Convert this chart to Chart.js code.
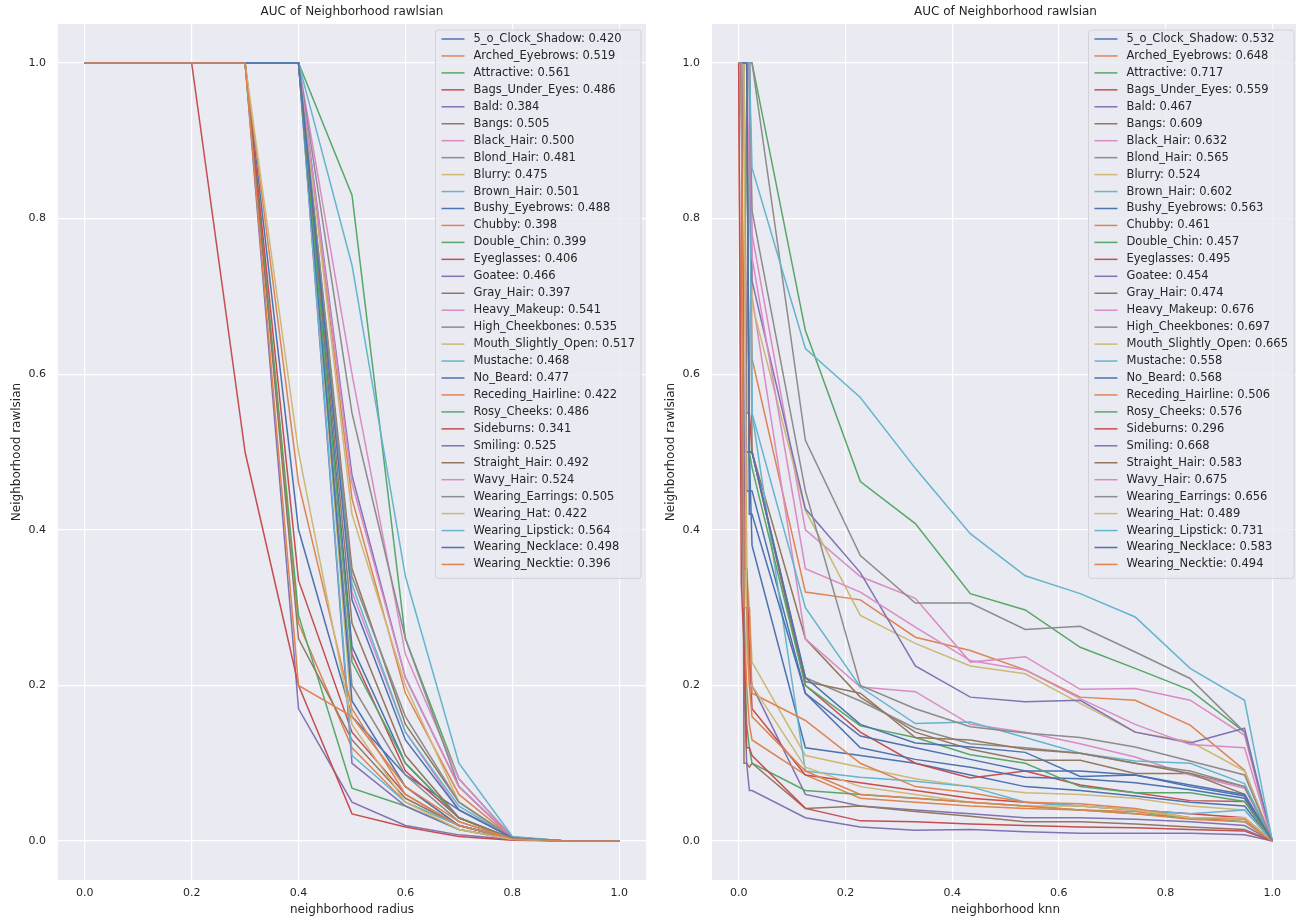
<!DOCTYPE html>
<html>
<head>
<meta charset="utf-8">
<script src="https://cdn.jsdelivr.net/npm/chart.js@4.4.0/dist/chart.umd.min.js"></script>
<style>
  html, body { margin: 0; padding: 0; background: #ffffff; overflow: hidden; width: 1296px; height: 921px; }
  #leftChart { position: absolute; left: 0; top: 0; }
  #rightChart { position: absolute; left: 654px; top: 0; }
</style>
</head>
<body>
<canvas id="leftChart" width="650" height="921"></canvas>
<canvas id="rightChart" width="651" height="921"></canvas>
<script>
// Attributes (one line per attribute in each panel)
const attributes = [
  '5_o_Clock_Shadow', 'Arched_Eyebrows', 'Attractive', 'Bags_Under_Eyes', 'Bald', 'Bangs',
  'Black_Hair', 'Blond_Hair', 'Blurry', 'Brown_Hair', 'Bushy_Eyebrows', 'Chubby',
  'Double_Chin', 'Eyeglasses', 'Goatee', 'Gray_Hair', 'Heavy_Makeup', 'High_Cheekbones',
  'Mouth_Slightly_Open', 'Mustache', 'No_Beard', 'Receding_Hairline', 'Rosy_Cheeks', 'Sideburns',
  'Smiling', 'Straight_Hair', 'Wavy_Hair', 'Wearing_Earrings', 'Wearing_Hat', 'Wearing_Lipstick',
  'Wearing_Necklace', 'Wearing_Necktie'
];

// AUC values shown in the legends
const aucRadius = [0.420, 0.519, 0.561, 0.486, 0.384, 0.505, 0.500, 0.481, 0.475, 0.501, 0.488, 0.398,
  0.399, 0.406, 0.466, 0.397, 0.541, 0.535, 0.517, 0.468, 0.477, 0.422, 0.486, 0.341,
  0.525, 0.492, 0.524, 0.505, 0.422, 0.564, 0.498, 0.396];
const aucKnn = [0.532, 0.648, 0.717, 0.559, 0.467, 0.609, 0.632, 0.565, 0.524, 0.602, 0.563, 0.461,
  0.457, 0.495, 0.454, 0.474, 0.676, 0.697, 0.665, 0.558, 0.568, 0.506, 0.576, 0.296,
  0.668, 0.583, 0.675, 0.656, 0.489, 0.731, 0.583, 0.494];

// x positions
const radiusX = [0, 0.1, 0.2, 0.3, 0.4, 0.5, 0.6, 0.7, 0.8, 0.9, 1.0];
const knnX = [0, 0.005, 0.01, 0.015, 0.02, 0.025, 0.125, 0.228, 0.331, 0.434, 0.537, 0.640, 0.743, 0.846, 0.948, 1.0];

// left panel: rawlsian vs radius
const radiusCurves = [
  [1, 1, 1, 1, 0.40, 0.16, 0.085, 0.04, 0.005, 0, 0],
  [1, 1, 1, 1, 1, 0.44, 0.19, 0.06, 0.004, 0, 0],
  [1, 1, 1, 1, 1, 0.83, 0.26, 0.08, 0.005, 0, 0],
  [1, 1, 1, 1, 1, 0.24, 0.09, 0.03, 0.003, 0, 0],
  [1, 1, 1, 1, 0.17, 0.05, 0.02, 0.008, 0.002, 0, 0],
  [1, 1, 1, 1, 1, 0.35, 0.15, 0.05, 0.004, 0, 0],
  [1, 1, 1, 1, 1, 0.32, 0.14, 0.04, 0.004, 0, 0],
  [1, 1, 1, 1, 1, 0.20, 0.085, 0.025, 0.003, 0, 0],
  [1, 1, 1, 1, 1, 0.16, 0.07, 0.02, 0.003, 0, 0],
  [1, 1, 1, 1, 1, 0.33, 0.14, 0.045, 0.004, 0, 0],
  [1, 1, 1, 1, 1, 0.25, 0.10, 0.03, 0.003, 0, 0],
  [1, 1, 1, 1, 0.28, 0.12, 0.05, 0.02, 0.003, 0, 0],
  [1, 1, 1, 1, 0.29, 0.068, 0.045, 0.015, 0.003, 0, 0],
  [1, 1, 1, 1, 0.335, 0.14, 0.06, 0.02, 0.003, 0, 0],
  [1, 1, 1, 1, 1, 0.10, 0.045, 0.015, 0.002, 0, 0],
  [1, 1, 1, 1, 0.26, 0.13, 0.055, 0.02, 0.003, 0, 0],
  [1, 1, 1, 1, 1, 0.60, 0.24, 0.08, 0.005, 0, 0],
  [1, 1, 1, 1, 1, 0.55, 0.26, 0.07, 0.005, 0, 0],
  [1, 1, 1, 1, 1, 0.42, 0.20, 0.05, 0.004, 0, 0],
  [1, 1, 1, 1, 1, 0.11, 0.05, 0.02, 0.003, 0, 0],
  [1, 1, 1, 1, 1, 0.18, 0.07, 0.02, 0.003, 0, 0],
  [1, 1, 1, 1, 0.46, 0.17, 0.06, 0.02, 0.003, 0, 0],
  [1, 1, 1, 1, 1, 0.23, 0.10, 0.03, 0.003, 0, 0],
  [1, 1, 1, 0.5, 0.20, 0.035, 0.018, 0.006, 0.001, 0, 0],
  [1, 1, 1, 1, 1, 0.47, 0.21, 0.07, 0.004, 0, 0],
  [1, 1, 1, 1, 1, 0.28, 0.11, 0.03, 0.003, 0, 0],
  [1, 1, 1, 1, 1, 0.46, 0.21, 0.07, 0.004, 0, 0],
  [1, 1, 1, 1, 1, 0.34, 0.16, 0.05, 0.004, 0, 0],
  [1, 1, 1, 1, 0.50, 0.15, 0.05, 0.015, 0.002, 0, 0],
  [1, 1, 1, 1, 1, 0.74, 0.34, 0.10, 0.006, 0, 0],
  [1, 1, 1, 1, 1, 0.31, 0.13, 0.04, 0.004, 0, 0],
  [1, 1, 1, 1, 0.20, 0.16, 0.07, 0.025, 0.003, 0, 0]
];

// right panel: rawlsian vs knn
const knnCurves = [
  [1, 1, 0.5, 0.5, 0.5, 0.38, 0.12, 0.11, 0.10, 0.085, 0.07, 0.065, 0.058, 0.05, 0.045, 0],
  [1, 1, 1, 1, 1, 0.62, 0.32, 0.31, 0.262, 0.245, 0.22, 0.185, 0.181, 0.149, 0.091, 0],
  [1, 1, 1, 1, 1, 1, 0.656, 0.462, 0.408, 0.318, 0.297, 0.249, 0.222, 0.194, 0.14, 0],
  [1, 1, 1, 0.55, 0.55, 0.5, 0.20, 0.14, 0.10, 0.081, 0.09, 0.072, 0.062, 0.052, 0.051, 0],
  [1, 1, 0.5, 0.3, 0.22, 0.2, 0.06, 0.045, 0.04, 0.035, 0.03, 0.03, 0.028, 0.025, 0.02, 0],
  [1, 1, 1, 1, 1, 0.5, 0.26, 0.185, 0.14, 0.118, 0.104, 0.104, 0.087, 0.087, 0.07, 0],
  [1, 1, 1, 1, 0.85, 0.7, 0.26, 0.198, 0.192, 0.15, 0.14, 0.125, 0.108, 0.085, 0.068, 0],
  [1, 1, 1, 1, 0.5, 0.5, 0.21, 0.18, 0.145, 0.125, 0.12, 0.113, 0.10, 0.09, 0.07, 0],
  [1, 1, 1, 0.35, 0.3, 0.23, 0.11, 0.095, 0.08, 0.07, 0.062, 0.06, 0.055, 0.045, 0.04, 0],
  [1, 1, 1, 1, 1, 0.55, 0.30, 0.198, 0.151, 0.153, 0.133, 0.113, 0.103, 0.10, 0.074, 0],
  [1, 1, 1, 0.45, 0.45, 0.45, 0.19, 0.12, 0.105, 0.095, 0.082, 0.08, 0.075, 0.066, 0.055, 0],
  [1, 0.5, 0.3, 0.2, 0.15, 0.13, 0.085, 0.055, 0.05, 0.045, 0.042, 0.04, 0.038, 0.03, 0.028, 0],
  [1, 1, 0.25, 0.15, 0.12, 0.10, 0.065, 0.06, 0.055, 0.05, 0.045, 0.04, 0.035, 0.03, 0.025, 0],
  [1, 1, 0.35, 0.35, 0.25, 0.17, 0.085, 0.075, 0.065, 0.055, 0.05, 0.045, 0.04, 0.035, 0.03, 0],
  [1, 1, 0.2, 0.1, 0.065, 0.065, 0.03, 0.018, 0.014, 0.015, 0.012, 0.01, 0.01, 0.01, 0.008, 0],
  [1, 1, 0.1, 0.1, 0.095, 0.10, 0.042, 0.045, 0.038, 0.032, 0.025, 0.025, 0.022, 0.018, 0.015, 0],
  [1, 1, 1, 1, 1, 0.78, 0.40, 0.34, 0.312, 0.23, 0.237, 0.195, 0.196, 0.181, 0.136, 0],
  [1, 1, 1, 1, 1, 1, 0.515, 0.367, 0.306, 0.306, 0.272, 0.276, 0.243, 0.209, 0.14, 0],
  [1, 1, 1, 1, 1, 0.69, 0.425, 0.29, 0.254, 0.225, 0.215, 0.177, 0.14, 0.128, 0.09, 0],
  [1, 1, 1, 1, 1, 0.55, 0.09, 0.082, 0.077, 0.07, 0.05, 0.045, 0.04, 0.035, 0.04, 0],
  [1, 1, 1, 1, 0.42, 0.42, 0.19, 0.135, 0.12, 0.105, 0.09, 0.09, 0.085, 0.07, 0.058, 0],
  [1, 1, 1, 0.3, 0.3, 0.19, 0.155, 0.10, 0.07, 0.062, 0.05, 0.048, 0.042, 0.03, 0.03, 0],
  [1, 1, 1, 1, 0.5, 0.48, 0.20, 0.148, 0.133, 0.111, 0.10, 0.07, 0.062, 0.062, 0.051, 0],
  [1, 0.33, 0.25, 0.12, 0.12, 0.11, 0.042, 0.026, 0.025, 0.022, 0.02, 0.018, 0.017, 0.015, 0.013, 0],
  [1, 1, 1, 1, 1, 0.72, 0.427, 0.345, 0.225, 0.185, 0.179, 0.181, 0.14, 0.126, 0.145, 0],
  [1, 1, 1, 1, 0.5, 0.5, 0.205, 0.19, 0.133, 0.13, 0.118, 0.113, 0.10, 0.087, 0.06, 0],
  [1, 1, 1, 1, 1, 0.75, 0.35, 0.32, 0.275, 0.232, 0.22, 0.183, 0.15, 0.124, 0.12, 0],
  [1, 1, 1, 1, 1, 0.81, 0.45, 0.20, 0.17, 0.147, 0.139, 0.133, 0.121, 0.103, 0.085, 0],
  [1, 1, 1, 0.25, 0.2, 0.2, 0.095, 0.07, 0.06, 0.05, 0.045, 0.045, 0.04, 0.03, 0.03, 0],
  [1, 1, 1, 1, 1, 0.865, 0.633, 0.57, 0.479, 0.395, 0.341, 0.318, 0.288, 0.222, 0.181, 0],
  [1, 1, 1, 1, 0.5, 0.5, 0.21, 0.15, 0.126, 0.121, 0.114, 0.083, 0.085, 0.072, 0.06, 0],
  [1, 1, 0.3, 0.3, 0.2, 0.16, 0.09, 0.06, 0.055, 0.05, 0.045, 0.04, 0.035, 0.028, 0.025, 0]
];

const axisTicks = [0, 0.2, 0.4, 0.6, 0.8, 1.0];

// seaborn "deep" palette
const palette = ['#4C72B0', '#DD8452', '#55A868', '#C44E52', '#8172B3',
                 '#937860', '#DA8BC3', '#8C8C8C', '#CCB974', '#64B5CD'];
const textColor = '#262626';
const fontFamily = '"DejaVu Sans", sans-serif';

// grey plot background
const plotBackground = {
  id: 'plotBackground',
  beforeDraw(chart) {
    const { ctx, chartArea: a } = chart;
    ctx.save();
    ctx.fillStyle = '#EAEAF2';
    ctx.fillRect(a.left, a.top, a.right - a.left, a.bottom - a.top);
    ctx.restore();
  }
};

// title centred over the plot area
const panelTitle = {
  id: 'panelTitle',
  afterDraw(chart, args, opts) {
    const { ctx, chartArea: a } = chart;
    ctx.save();
    ctx.font = '12px ' + fontFamily;
    ctx.fillStyle = textColor;
    ctx.textAlign = 'center';
    ctx.textBaseline = 'middle';
    ctx.fillText(opts.text, (a.left + a.right) / 2, 12);
    ctx.restore();
  }
};

// matplotlib-like legend in the upper right corner
const cornerLegend = {
  id: 'cornerLegend',
  afterDatasetsDraw(chart, args, opts) {
    const { ctx, chartArea: a } = chart;
    const labels = opts.labels;
    const rowH = 16.95;
    ctx.save();
    ctx.font = '11.5px ' + fontFamily;
    let maxW = 0;
    labels.forEach(t => { maxW = Math.max(maxW, ctx.measureText(t).width); });
    const w = 38 + maxW + 6;
    const h = labels.length * rowH + 6;
    const x = a.right - 5 - w;
    const y = a.top + 6;
    ctx.beginPath();
    ctx.roundRect(x, y, w, h, 3);
    ctx.fillStyle = 'rgba(234,234,242,0.8)';
    ctx.fill();
    ctx.strokeStyle = '#d2d2d8';
    ctx.lineWidth = 1;
    ctx.stroke();
    ctx.textBaseline = 'middle';
    labels.forEach((t, i) => {
      const cy = y + 9 + rowH * i;
      ctx.beginPath();
      ctx.moveTo(x + 6, cy);
      ctx.lineTo(x + 29, cy);
      ctx.strokeStyle = palette[i % 10];
      ctx.lineWidth = 1.5;
      ctx.stroke();
      ctx.fillStyle = textColor;
      ctx.fillText(t, x + 38, cy);
    });
    ctx.restore();
  }
};

function makeDatasets(xs, curves) {
  return attributes.map((name, i) => ({
    label: name,
    data: xs.map((x, j) => ({ x: x, y: curves[i][j] })),
    borderColor: palette[i % 10],
    borderWidth: 1.5,
    pointRadius: 0,
    fill: false,
    tension: 0,
    order: -i
  }));
}

function makeScales(xTitle) {
  const tickFont = { size: 11, family: fontFamily };
  const titleFont = { size: 12, family: fontFamily };
  return {
    x: {
      type: 'linear', min: -0.05, max: 1.05, bounds: 'data',
      afterBuildTicks: axis => { axis.ticks = axisTicks.map(v => ({ value: v })); },
      afterFit: axis => { axis.height = 41; },
      grid: { color: '#ffffff', lineWidth: 1.2, drawTicks: false },
      border: { display: false },
      ticks: { padding: 7, color: textColor, font: tickFont, maxRotation: 0, autoSkip: false,
               callback: v => Number(v).toFixed(1) },
      title: { display: true, text: xTitle, color: textColor, font: titleFont, padding: { top: 0, bottom: 4 } }
    },
    y: {
      type: 'linear', min: -0.05, max: 1.05, bounds: 'data',
      afterBuildTicks: axis => { axis.ticks = axisTicks.map(v => ({ value: v })); },
      afterFit: axis => { axis.width = 58; },
      grid: { color: '#ffffff', lineWidth: 1.2, drawTicks: false },
      border: { display: false },
      ticks: { padding: 12, color: textColor, font: tickFont, autoSkip: false,
               callback: v => Number(v).toFixed(1) },
      title: { display: true, text: 'Neighborhood rawlsian', color: textColor, font: titleFont, padding: { top: 10, bottom: 0 } }
    }
  };
}

function makeChart(id, xs, curves, aucs, xTitle, rightPad) {
  const ctx = document.getElementById(id).getContext('2d');
  return new Chart(ctx, {
    type: 'line',
    data: { datasets: makeDatasets(xs, curves) },
    options: {
      responsive: false,
      animation: false,
      devicePixelRatio: 1,
      layout: { padding: { left: 0, right: rightPad, top: 24, bottom: 0 } },
      plugins: {
        legend: { display: false },
        tooltip: { enabled: false },
        panelTitle: { text: 'AUC of Neighborhood rawlsian' },
        cornerLegend: { labels: attributes.map((n, i) => n + ': ' + aucs[i].toFixed(3)) }
      },
      scales: makeScales(xTitle)
    },
    plugins: [plotBackground, panelTitle, cornerLegend]
  });
}

makeChart('leftChart', radiusX, radiusCurves, aucRadius, 'neighborhood radius', 4);
makeChart('rightChart', knnX, knnCurves, aucKnn, 'neighborhood knn', 6);
</script>
</body>
</html>
